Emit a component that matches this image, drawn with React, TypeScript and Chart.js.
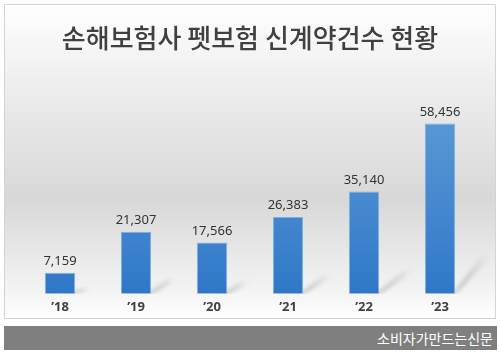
import React, { useEffect, useRef } from "react";
import { Chart, registerables } from "chart.js";

Chart.register(...registerables);

const TITLE = "손해보험사 펫보험 신계약건수 현황";
const SOURCE = "소비자가만드는신문";
const categories = ["’18", "’19", "’20", "’21", "’22", "’23"];
const contracts = [7159, 21307, 17566, 26383, 35140, 58456];

const shadowPlugin = {
  id: "barShadow",
  beforeDatasetsDraw(chart: any) {
    const ctx = chart.ctx;
    const meta = chart.getDatasetMeta(0);
    const area = chart.chartArea;
    ctx.save();
    ctx.beginPath();
    ctx.rect(area.left, area.top, area.right - area.left + 12, area.bottom - area.top);
    ctx.clip();
    meta.data.forEach((bar: any) => {
      const props = bar.getProps(["x", "y", "base", "width"], true);
      const h = props.base - props.y;
      const right = props.x + props.width / 2;
      const left = props.x - props.width / 2;
      const dx = Math.min(12 + 0.22 * h, 36);
      const dy = 0.22 * h;
      const g = ctx.createLinearGradient(right, props.base, right + dx, props.base - dy);
      g.addColorStop(0, "rgba(100,100,100,0.6)");
      g.addColorStop(1, "rgba(160,160,160,0.0)");
      ctx.fillStyle = g;
      ctx.filter = "blur(2px)";
      ctx.beginPath();
      ctx.moveTo(left + 6, props.base);
      ctx.lineTo(right, props.base);
      ctx.lineTo(right + dx, props.base - dy);
      ctx.lineTo(right + dx - 10, props.base - dy);
      ctx.lineTo(right, props.base - 2);
      ctx.closePath();
      ctx.fill();
    });
    ctx.restore();
  },
};

const labelPlugin = {
  id: "barLabels",
  afterDatasetsDraw(chart: any) {
    const ctx = chart.ctx;
    const meta = chart.getDatasetMeta(0);
    ctx.save();
    ctx.font = "13px 'Noto Sans', 'Open Sans', sans-serif";
    ctx.fillStyle = "#333333";
    ctx.textAlign = "center";
    ctx.textBaseline = "bottom";
    meta.data.forEach((bar: any, i: number) => {
      const v = chart.data.datasets[0].data[i] as number;
      ctx.fillText(v.toLocaleString("en-US"), bar.x, bar.y - 5);
    });
    ctx.restore();
  },
};

export default function App() {
  const ref = useRef<HTMLCanvasElement>(null);
  useEffect(() => {
    if (!ref.current) return;
    const chart = new Chart(ref.current, {
      type: "bar",
      data: {
        labels: categories,
        datasets: [
          {
            data: contracts,
            backgroundColor: (c: any) => {
              const ch = c.chart;
              const a = ch.chartArea;
              if (!a) return "#4a8ad0";
              const g = ch.ctx.createLinearGradient(0, a.top, 0, a.bottom);
              g.addColorStop(0, "#5d9bd7");
              g.addColorStop(1, "#2f78c8");
              return g;
            },
            borderColor: "rgba(120,170,225,0.9)",
            borderWidth: 1,
            borderSkipped: "bottom",
            barPercentage: 0.4,
            categoryPercentage: 1,
          },
        ],
      },
      options: {
        animation: false,
        responsive: false,
        maintainAspectRatio: false,
        layout: { padding: { left: 17, right: 17, top: 0, bottom: 6 } },
        plugins: {
          legend: { display: false },
          tooltip: { enabled: false },
          title: {
            display: true,
            text: TITLE,
            color: "#404040",
            font: { family: "'Noto Sans CJK KR', sans-serif", size: 26, weight: "500" },
            padding: { top: 18, bottom: 48 },
          },
        },
        scales: {
          x: {
            grid: { display: false },
            border: { display: false },
            ticks: {
              color: "#404040",
              padding: -2,
              font: { family: "'Noto Sans', sans-serif", size: 13, weight: "bold", lineHeight: 1.1 },
            },
          },
          y: { display: false, min: 0, max: 65800 },
        },
      },
      plugins: [shadowPlugin, labelPlugin],
    });
    return () => chart.destroy();
  }, []);

  return (
    <div style={{ position: "absolute", left: 0, top: 0, width: 500, height: 355, background: "#ffffff" }}>
      <div
        style={{
          position: "absolute",
          left: 4,
          top: 4,
          width: 490,
          height: 313,
          border: "1px solid #d4d4d4",
          background: "linear-gradient(to bottom, #ffffff 0%, #eeeeee 25%, #d8d8d8 62%, #f2f2f2 90%, #ffffff 100%)",
        }}
      >
        <canvas ref={ref} width={490} height={313} style={{ display: "block", width: 490, height: 313 }} />
      </div>
      <div
        style={{
          position: "absolute",
          left: 4,
          top: 326,
          width: 493,
          height: 24,
          background: "#7f7f7f",
          color: "#ffffff",
          fontFamily: "'Noto Sans CJK KR', sans-serif",
          fontSize: 14,
          lineHeight: "24px",
          textAlign: "right",
          boxSizing: "border-box",
          paddingRight: 4,
        }}
      >
        {SOURCE}
      </div>
    </div>
  );
}
